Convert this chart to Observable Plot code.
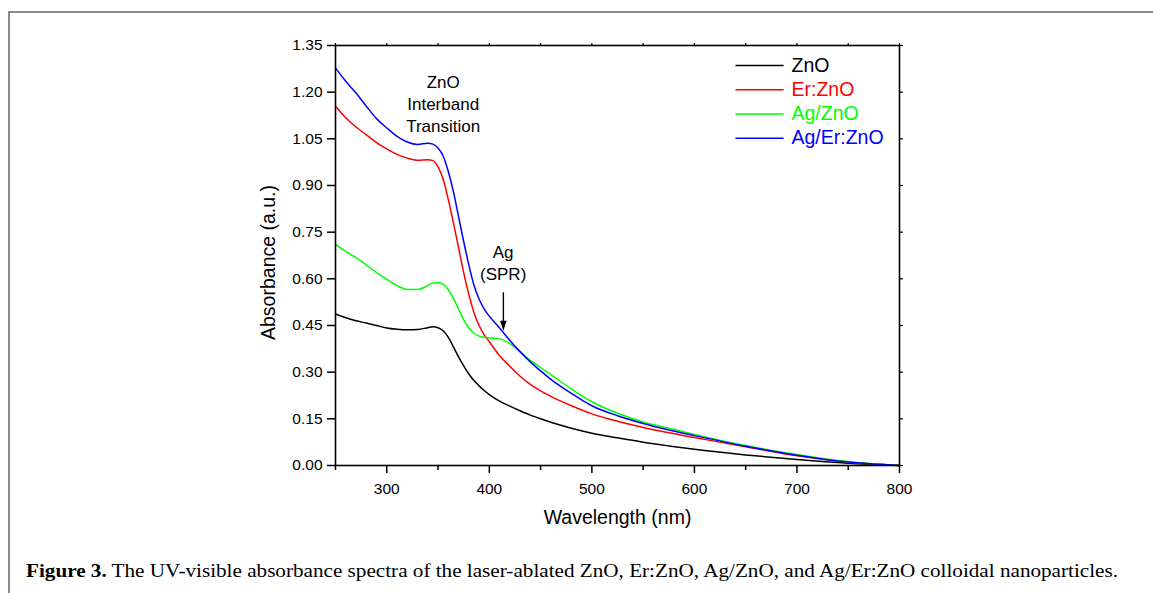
<!DOCTYPE html>
<html><head><meta charset="utf-8">
<script src="https://cdn.jsdelivr.net/npm/d3@7"></script>
<script src="https://cdn.jsdelivr.net/npm/@observablehq/plot@0.6"></script>
<style>
html,body{margin:0;padding:0;background:#fff;width:1153px;height:593px;overflow:hidden;}
#frame{position:absolute;left:8px;top:11px;width:1300px;height:700px;border-top:2px solid #8a8a8a;border-left:2px solid #8a8a8a;pointer-events:none;}
#chart{position:absolute;left:0;top:0;}
#caption{position:absolute;left:26px;top:560px;font-family:"Liberation Serif","Times New Roman",serif;font-size:18px;line-height:22px;white-space:nowrap;color:#000;transform-origin:0 0;}
</style></head><body>
<div id="chart"></div>
<div id="frame"></div>
<div id="caption"><b>Figure 3.</b> The UV-visible absorbance spectra of the laser-ablated ZnO, Er:ZnO, Ag/ZnO, and Ag/Er:ZnO colloidal nanoparticles.</div>
<script>
const wavelength = [250,260,270,280,290,300,310,320,330,340,345,350,355,360,365,370,375,380,385,390,395,400,410,420,430,440,450,460,480,500,525,550,575,600,650,700,750,800];
const znO     = [0.487,0.475,0.465,0.458,0.450,0.442,0.438,0.436,0.437,0.443,0.446,0.443,0.433,0.412,0.381,0.349,0.320,0.294,0.273,0.256,0.241,0.228,0.207,0.191,0.176,0.162,0.150,0.139,0.120,0.104,0.089,0.075,0.063,0.052,0.034,0.019,0.007,0.000];
const erZnO   = [1.155,1.118,1.088,1.063,1.038,1.018,1.000,0.988,0.981,0.983,0.980,0.960,0.920,0.855,0.780,0.700,0.620,0.550,0.492,0.450,0.420,0.398,0.353,0.319,0.287,0.261,0.240,0.222,0.192,0.166,0.142,0.122,0.105,0.090,0.060,0.031,0.011,0.000];
const agZnO   = [0.710,0.688,0.668,0.645,0.620,0.598,0.578,0.566,0.566,0.578,0.587,0.588,0.582,0.565,0.537,0.503,0.469,0.442,0.425,0.416,0.412,0.410,0.407,0.392,0.365,0.338,0.315,0.292,0.246,0.205,0.168,0.140,0.120,0.100,0.064,0.035,0.012,0.000];
const agErZnO = [1.278,1.235,1.197,1.155,1.115,1.085,1.058,1.040,1.032,1.036,1.033,1.020,0.995,0.945,0.880,0.800,0.720,0.645,0.580,0.535,0.503,0.480,0.442,0.402,0.366,0.333,0.304,0.277,0.232,0.192,0.160,0.135,0.114,0.096,0.062,0.033,0.011,0.000];

const seriesNames  = ["ZnO", "Er:ZnO", "Ag/ZnO", "Ag/Er:ZnO"];
const seriesColors = ["#000000", "#ff0000", "#00ff00", "#0000ff"];
const yTicks = [0, 0.15, 0.30, 0.45, 0.60, 0.75, 0.90, 1.05, 1.20, 1.35];
const xTicks = [300, 400, 500, 600, 700, 800];
const xMinorTicks = [250, 350, 450, 550, 650, 750];

const valueSets = [znO, erZnO, agZnO, agErZnO];
const rows = seriesNames.flatMap((name, s) =>
  wavelength.map((w, i) => ({series: name, wavelength: w, absorbance: valueSets[s][i]})));

const arrowHead = {
  draw(ctx) {
    ctx.moveTo(0, 0);
    ctx.lineTo(-3.2, -10);
    ctx.lineTo(3.2, -10);
    ctx.closePath();
  }
};

const legendY = (d, i) => 1.286 - i * 0.078;
const noLabel = () => "";

const chart = Plot.plot({
  width: 1153,
  height: 540,
  marginLeft: 335,
  marginRight: 254,
  marginTop: 45,
  marginBottom: 75,
  x: {domain: [250, 800]},
  y: {domain: [0, 1.35]},
  color: {domain: seriesNames, range: seriesColors},
  style: {fontFamily: "'Liberation Sans', Arial, sans-serif", fontSize: "15.5px", color: "#000", background: "transparent", overflow: "visible"},
  marks: [
    Plot.axisX({ticks: xTicks, tickSize: 8, tickPadding: 9, strokeWidth: 1.5, label: null, fontSize: 15.5}),
    Plot.axisX({ticks: xMinorTicks, tickSize: 5, strokeWidth: 1.5, tickFormat: noLabel, label: null}),
    Plot.axisX({anchor: "top", ticks: xTicks.concat(xMinorTicks), tickSize: 3, strokeWidth: 1.2, tickFormat: noLabel, label: null}),
    Plot.axisY({ticks: yTicks, tickSize: 8, tickPadding: 5, strokeWidth: 1.5, tickFormat: d3.format(".2f"), label: null, fontSize: 15.5}),
    Plot.axisY({anchor: "right", ticks: yTicks, tickSize: 3, strokeWidth: 1.2, tickFormat: noLabel, label: null}),
    Plot.line(rows, {x: "wavelength", y: "absorbance", z: "series", stroke: "series", strokeWidth: 1.5, curve: "monotone-x"}),
    Plot.frame({stroke: "black", strokeWidth: 1.6}),
    Plot.text(["ZnO\nInterband\nTransition"], {x: 355, y: 1.165, fontSize: 17, lineHeight: 1.28, fill: "black"}),
    Plot.text(["Ag\n(SPR)"], {x: 413.5, y: 0.655, fontSize: 17, lineHeight: 1.28, fill: "black"}),
    Plot.ruleX([413.7], {y1: 0.555, y2: 0.455, stroke: "black", strokeWidth: 1.4}),
    Plot.dot([413.7], {x: d => d, y: 0.433, symbol: arrowHead, fill: "black", stroke: "none"}),
    Plot.link(seriesNames, {x1: 640, x2: 687, y1: legendY, y2: legendY, stroke: d => d, strokeWidth: 1.5}),
    Plot.text(seriesNames, {x: 694.7, y: legendY, fill: d => d, textAnchor: "start", fontSize: 19.5}),
    Plot.text(["Wavelength (nm)"], {frameAnchor: "bottom", dy: 58, textAnchor: "middle", fontSize: 19.5, fill: "black"}),
    Plot.text(["Absorbance (a.u.)"], {frameAnchor: "left", dx: -67, dy: 7, rotate: -90, textAnchor: "middle", fontSize: 19.5, fill: "black"})
  ]
});
document.getElementById("chart").appendChild(chart);

const cap = document.getElementById("caption");
const w = cap.getBoundingClientRect().width;
cap.style.transform = `scaleX(${1092 / w})`;
</script>
</body></html>
